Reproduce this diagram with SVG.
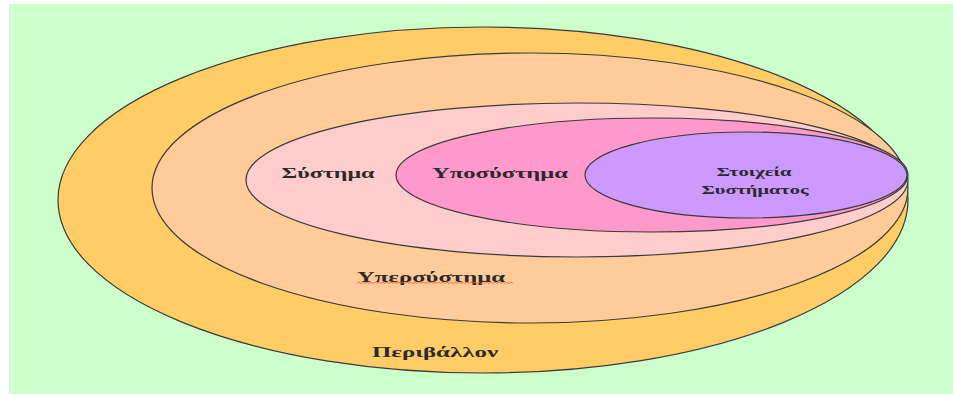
<svg xmlns="http://www.w3.org/2000/svg" width="953" height="394" viewBox="0 0 953 394">
<style>
.shape{stroke:#3a3a3a;stroke-width:1.2}
.lbl{font-family:"Liberation Serif","DejaVu Serif",serif;font-weight:bold;fill:#2a2a2a;text-anchor:middle;dominant-baseline:central}
.big{font-size:14px}
.small{font-size:12px}
</style>
<rect x="0" y="0" width="953" height="394" fill="#ffffff"/>
<rect x="9" y="4" width="944" height="390" fill="#ccffcc"/>
<g id="periballon">
<ellipse class="shape" cx="483" cy="200" rx="425" ry="173" fill="#ffcc66"/>
<text class="lbl big" x="435" y="352" textLength="126" lengthAdjust="spacingAndGlyphs">Περιβάλλον</text>
</g>
<g id="ypersystima">
<ellipse class="shape" cx="530" cy="188" rx="378" ry="135" fill="#ffcc99"/>
<text class="lbl big" x="431" y="277" textLength="148" lengthAdjust="spacingAndGlyphs">Υπερσύστημα</text>
<path d="M357 283.5 l2 -1.5 l2 1.5 l2 -1.5 l2 1.5 l2 -1.5 l2 1.5 l2 -1.5 l2 1.5 l2 -1.5 l2 1.5 l2 -1.5 l2 1.5 l2 -1.5 l2 1.5 l2 -1.5 l2 1.5 l2 -1.5 l2 1.5 l2 -1.5 l2 1.5 l2 -1.5 l2 1.5 l2 -1.5 l2 1.5 l2 -1.5 l2 1.5 l2 -1.5 l2 1.5 l2 -1.5 l2 1.5 l2 -1.5 l2 1.5 l2 -1.5 l2 1.5 l2 -1.5 l2 1.5 l2 -1.5 l2 1.5 l2 -1.5 l2 1.5 l2 -1.5 l2 1.5 l2 -1.5 l2 1.5 l2 -1.5 l2 1.5 l2 -1.5 l2 1.5 l2 -1.5 l2 1.5 l2 -1.5 l2 1.5 l2 -1.5 l2 1.5 l2 -1.5 l2 1.5 l2 -1.5 l2 1.5 l2 -1.5 l2 1.5 l2 -1.5 l2 1.5 l2 -1.5 l2 1.5 l2 -1.5 l2 1.5 l2 -1.5 l2 1.5 l2 -1.5 l2 1.5 l2 -1.5 l2 1.5 l2 -1.5 l2 1.5 l2 -1.5 l2 1.5 l2 -1.5 l2 1.5" fill="none" stroke="#ff5544" stroke-width="0.8"/>
</g>
<g id="systima">
<ellipse class="shape" cx="577" cy="180" rx="331" ry="77" fill="#ffcccc"/>
<text class="lbl big" x="328" y="173" textLength="93" lengthAdjust="spacingAndGlyphs">Σύστημα</text>
</g>
<g id="yposystima">
<ellipse class="shape" cx="652" cy="175" rx="256" ry="57" fill="#ff99cc"/>
<text class="lbl big" x="500" y="173" textLength="136" lengthAdjust="spacingAndGlyphs">Υποσύστημα</text>
</g>
<g id="stoixeia">
<ellipse class="shape" cx="746" cy="175" rx="161" ry="43" fill="#cc99ff"/>
<text class="lbl small" x="754" y="172" textLength="75" lengthAdjust="spacingAndGlyphs">Στοιχεία</text>
<text class="lbl small" x="755" y="190" textLength="107" lengthAdjust="spacingAndGlyphs">Συστήματος</text>
</g>
</svg>
